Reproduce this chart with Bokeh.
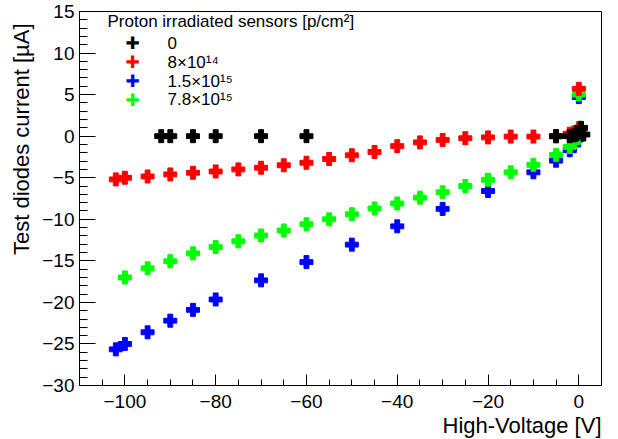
from bokeh.plotting import figure
from bokeh.models import (SingleIntervalTicker, CustomJSTickFormatter, Label,
                          Title, Range1d)
from bokeh.embed import file_html
from bokeh.resources import INLINE

# ---- data ----
v_black = [-92, -90, -85, -80, -70, -60, -5, -2, -1, -0.5, 0, 0.5, 1]
i_black = [0, 0, 0, 0, 0, 0, 0, 0.0, 0.1, 0.2, 0.5, 1.0, 0.2]

v_red = [-102, -100, -95, -90, -85, -80, -75, -70, -65, -60, -55, -50, -45, -40, -35,
         -30, -25, -20, -15, -10, -5, -2, -1, 0, 0]
i_red = [-5.2, -5.0, -4.85, -4.6, -4.4, -4.25, -4.0, -3.8, -3.5, -3.2, -2.75, -2.3, -1.9,
         -1.2, -0.75, -0.45, -0.25, -0.15, -0.05, -0.05, -0.02, 0.3, 0.4, 0.9, 5.7]

v_blue = [-102, -100, -95, -90, -85, -80, -70, -60, -50, -40, -30, -20, -10, -5, -2, -1,
          -0.5, 0, 0]
i_blue = [-25.65, -25.0, -23.6, -22.2, -20.9, -19.65, -17.35, -15.15, -13.05, -10.85,
          -8.75, -6.6, -4.35, -2.95, -1.7, -1.0, -0.4, 0.5, 4.7]

v_green = [-100, -95, -90, -85, -80, -75, -70, -65, -60, -55, -50, -45, -40, -35, -30,
           -25, -20, -15, -10, -5, -2, -1, -0.5, 0, 0]
i_green = [-17.0, -15.9, -15.05, -14.1, -13.35, -12.65, -11.95, -11.35, -10.6, -10.0,
           -9.4, -8.7, -8.1, -7.4, -6.75, -6.0, -5.25, -4.35, -3.45, -2.25, -1.3, -0.7,
           0.3, 1.0, 5.0]

legend_labels = ["0", "8×10¹⁴", "1.5×10¹⁵", "7.8×10¹⁵"]
legend_colors = ["#000000", "#ff0000", "#0000ff", "#00ff00"]
legend_title = "Proton irradiated sensors [p/cm²]"
x_title = "High-Voltage [V]"
y_title = "Test diodes current [µA]"

FONT = "Liberation Sans"
FRAME_H = 374

p = figure(width=618, height=439, x_range=Range1d(-110, 5), y_range=Range1d(-30, 15),
           output_backend="svg", toolbar_location=None,
           min_border_left=77, min_border_right=17, min_border_top=11, min_border_bottom=54)
p.xgrid.visible = False
p.ygrid.visible = False
p.outline_line_color = "black"
p.outline_line_width = 1
p.background_fill_color = "white"
p.border_fill_color = "white"

fmt = CustomJSTickFormatter(code="return (tick < 0 ? '\\u2212' : '') + Math.abs(tick).toString();")

xa = p.xaxis[0]
xa.ticker = SingleIntervalTicker(interval=20, num_minor_ticks=4)
xa.major_tick_in = 11
xa.major_tick_out = 0
xa.minor_tick_in = 6
xa.minor_tick_out = 0
xa.major_label_standoff = 9
ya = p.yaxis[0]
ya.ticker = SingleIntervalTicker(interval=5, num_minor_ticks=5)
ya.major_tick_in = 16
ya.major_tick_out = 0
ya.minor_tick_in = 8
ya.minor_tick_out = 0
ya.major_label_standoff = 5
for ax in (xa, ya):
    ax.formatter = fmt
    ax.major_label_text_font = FONT
    ax.major_label_text_font_size = "19px"
    ax.major_label_text_color = "black"
    ax.axis_line_color = "black"
    ax.major_tick_line_color = "black"
    ax.minor_tick_line_color = "black"

p.add_layout(Title(text=x_title, align="right", text_font=FONT, text_font_size="22px",
                   text_font_style="normal", text_color="black", standoff=0), "below")
p.add_layout(Title(text=y_title, align="right", text_font=FONT, text_font_size="22px",
                   text_font_style="normal", text_color="black", standoff=12, offset=12), "left")

MS = 13
p.scatter(v_blue, i_blue, marker="plus", size=MS, color="#0000ff")
p.scatter(v_green, i_green, marker="plus", size=MS, color="#00ff00")
p.scatter(v_red, i_red, marker="plus", size=MS, color="#ff0000")
p.scatter(v_black, i_black, marker="plus", size=MS, color="#000000")

# legend (drawn as annotations, in screen units relative to the frame)
p.add_layout(Label(x=28, y=FRAME_H - 10, x_units="screen", y_units="screen",
                   text=legend_title, text_font=FONT, text_font_size="17px",
                   text_baseline="middle", text_color="black"))
row_y = [FRAME_H - 31.5, FRAME_H - 50.5, FRAME_H - 69.5, FRAME_H - 88]
for lab, col, yy in zip(legend_labels, legend_colors, row_y):
    p.add_layout(Label(x=53, y=yy, x_units="screen", y_units="screen", text="\u271a",
                       text_font="DejaVu Sans", text_font_size="17px", text_align="center",
                       text_baseline="middle", text_color=col))
    p.add_layout(Label(x=88, y=yy, x_units="screen", y_units="screen", text=lab,
                       text_font=FONT, text_font_size="17px", text_baseline="middle",
                       text_color="black"))

open("out.html", "w").write(file_html(p, INLINE))
